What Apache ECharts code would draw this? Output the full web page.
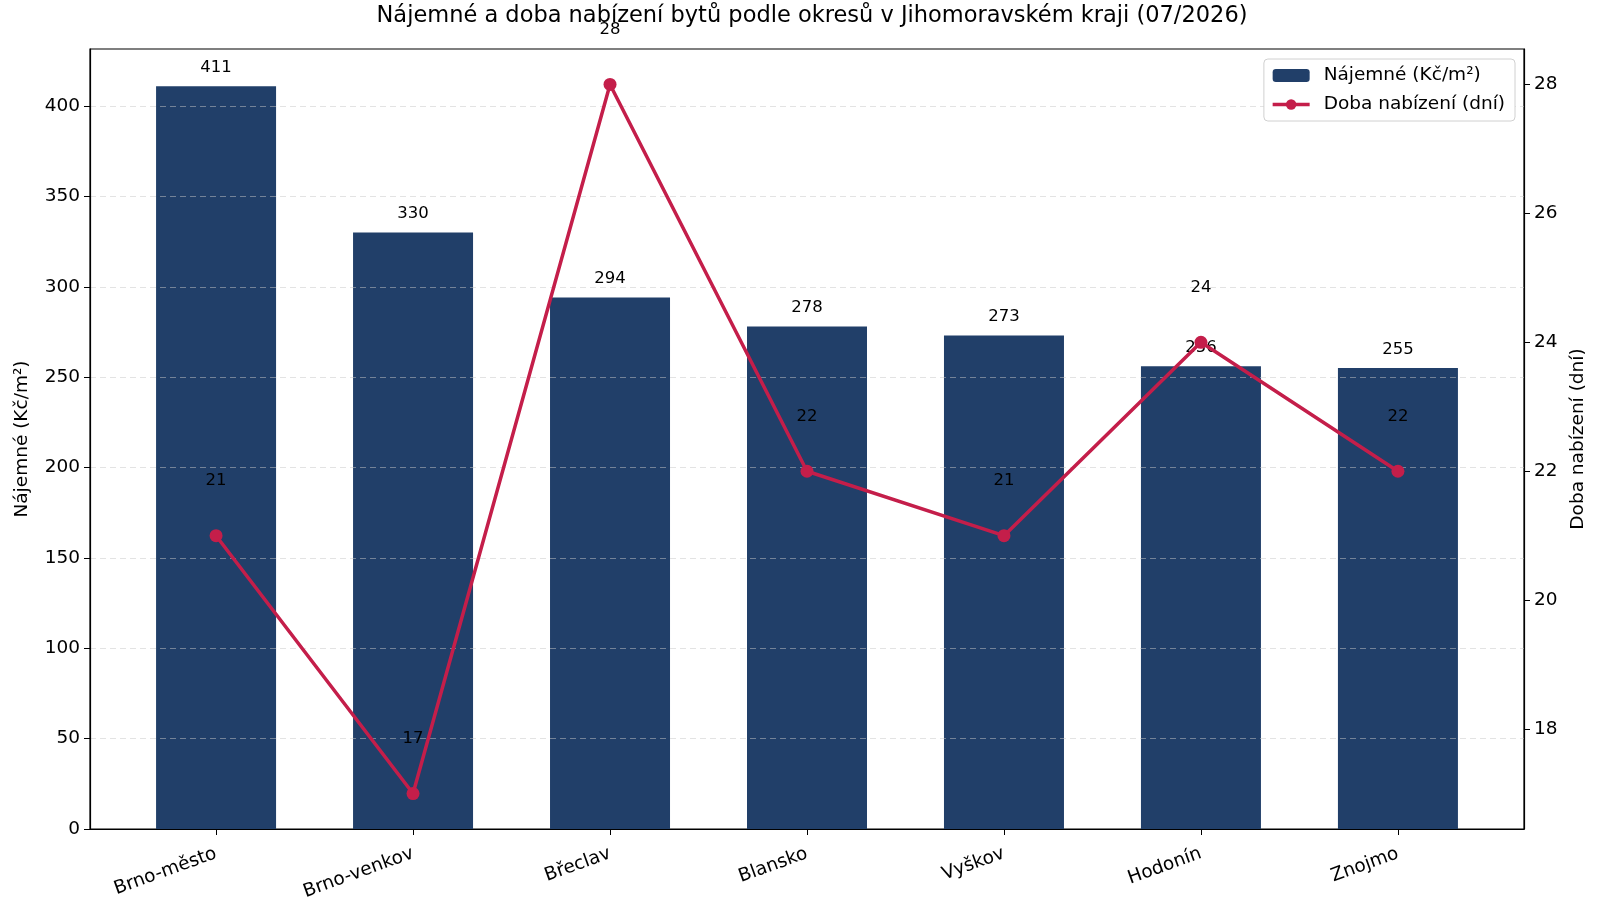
<!DOCTYPE html>
<html>
<head>
<meta charset="utf-8">
<script src="https://cdn.jsdelivr.net/npm/echarts@6/dist/echarts.min.js"></script>
<style>
  html, body { margin: 0; padding: 0; background: #fff; }
  #chart { width: 1600px; height: 900px; }
</style>
</head>
<body>
<div id="chart"></div>
<script>
// Data
var districts = ['Brno-město', 'Brno-venkov', 'Břeclav', 'Blansko', 'Vyškov', 'Hodonín', 'Znojmo'];
var rentValues = [411, 330, 294, 278, 273, 256, 255];
var daysValues = [21, 17, 28, 22, 21, 24, 22];
var rentTicks = [0, 50, 100, 150, 200, 250, 300, 350, 400];
var daysTicks = [18, 20, 22, 24, 26, 28];

var font = 'DejaVu Sans';
var barColor = '#213f69';
var lineColor = '#c41e4a';

var chartDom = document.getElementById('chart');
var chart = echarts.init(chartDom);

var indices = districts.map(function (d, i) { return i; });

var option = {
  animation: false,
  textStyle: { fontFamily: font },
  title: {
    text: 'Nájemné a doba nabízení bytů podle okresů v Jihomoravském kraji (07/2026)',
    left: 807,
    textAlign: 'center',
    top: 0,
    textStyle: { fontFamily: font, fontSize: 22.5, fontWeight: 'normal', color: '#000' }
  },
  legend: {
    orient: 'vertical',
    right: 85,
    top: 59,
    padding: [7, 10, 7, 7],
    itemWidth: 37,
    itemHeight: 13,
    itemGap: 10,
    backgroundColor: '#fff',
    borderColor: '#d0d0d0',
    borderWidth: 1,
    borderRadius: 4,
    lineStyle: { width: 3.5 },
    textStyle: { fontFamily: font, fontSize: 18.5, color: '#000', padding: [0, 0, 0, 9] },
    data: ['Nájemné (Kč/m²)', 'Doba nabízení (dní)']
  },
  grid: {
    left: 90,
    right: 76,
    top: 49,
    bottom: 71,
    containLabel: false,
    outerBoundsMode: 'none',
    show: true,
    borderColor: '#000',
    borderWidth: 1.2,
    backgroundColor: 'transparent'
  },
  xAxis: {
    type: 'value',
    min: -0.64,
    max: 6.64,
    z: 4,
    axisLine: { show: true, onZero: false, lineStyle: { color: '#000', width: 1.2 } },
    axisTick: { show: true, length: 6, lineStyle: { color: '#000' }, customValues: indices },
    splitLine: { show: false },
    axisLabel: {
      customValues: indices,
      rotate: 20,
      margin: 24,
      fontFamily: font,
      fontSize: 18.5,
      color: '#000',
      formatter: function (v) { return districts[Math.round(v)]; }
    }
  },
  yAxis: [
    {
      type: 'value',
      min: 0,
      max: 431.55,
      interval: 50,
      z: 3,
      name: 'Nájemné (Kč/m²)',
      nameLocation: 'middle',
      nameRotate: 90,
      nameGap: 58,
      nameTextStyle: { fontFamily: font, fontSize: 18.5, color: '#000' },
      axisLine: { show: true, onZero: false, lineStyle: { color: '#000', width: 1.2 } },
      axisTick: { show: true, length: 6, lineStyle: { color: '#000' }, customValues: rentTicks },
      axisLabel: { customValues: rentTicks, margin: 10, fontFamily: font, fontSize: 18.5, color: '#000' },
      splitLine: { show: true, lineStyle: { color: 'rgba(200,200,200,0.5)', type: [6, 4], width: 1.2 } }
    },
    {
      type: 'value',
      min: 16.45,
      max: 28.55,
      position: 'right',
      name: 'Doba nabízení (dní)',
      nameLocation: 'middle',
      nameRotate: 90,
      nameGap: 44,
      nameTextStyle: { fontFamily: font, fontSize: 18.5, color: '#000' },
      axisLine: { show: true, onZero: false, lineStyle: { color: '#000', width: 1.2 } },
      axisTick: { show: true, length: 6, lineStyle: { color: '#000' }, customValues: daysTicks },
      axisLabel: { customValues: daysTicks, margin: 10, fontFamily: font, fontSize: 18.5, color: '#000' },
      splitLine: { show: false }
    }
  ],
  series: [
    {
      name: 'Nájemné (Kč/m²)',
      type: 'bar',
      yAxisIndex: 0,
      z: 2,
      barWidth: 120,
      itemStyle: { color: barColor },
      label: {
        show: true,
        position: 'top',
        distance: 10,
        fontFamily: font,
        fontSize: 16.5,
        color: '#000'
      },
      data: rentValues.map(function (v, i) { return [i, v]; })
    },
    {
      name: 'Doba nabízení (dní)',
      type: 'line',
      yAxisIndex: 1,
      z: 5,
      symbol: 'circle',
      symbolSize: 13,
      lineStyle: { color: lineColor, width: 3.5 },
      itemStyle: { color: lineColor },
      label: {
        show: true,
        position: 'top',
        distance: 40,
        fontFamily: font,
        fontSize: 16.5,
        color: '#000'
      },
      data: daysValues.map(function (v, i) { return [i, v]; })
    }
  ]
};

chart.setOption(option);
window.addEventListener('resize', function () {
  chart.resize();
});
</script>
</body>
</html>
